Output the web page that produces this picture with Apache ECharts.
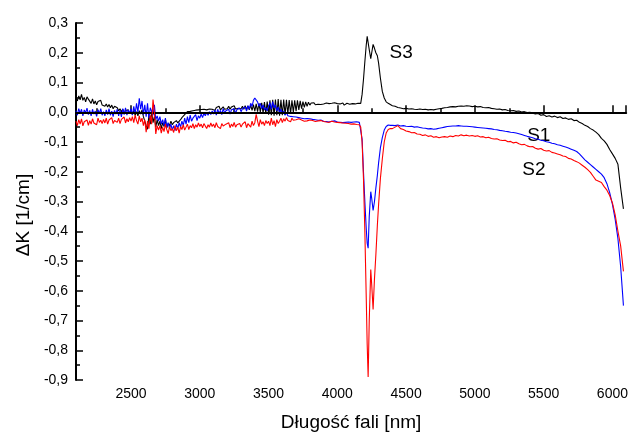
<!DOCTYPE html>
<html><head><meta charset="utf-8">
<script src="https://cdn.jsdelivr.net/npm/echarts@6/dist/echarts.min.js"></script>
<style>html,body{margin:0;padding:0;background:#fff}#c{width:631px;height:437px}</style>
</head><body><div id="c"></div>
<script>
// Wavelength grid description [nm]
const gridA = {start: 2100, step: 10};   // noisy part, 2100..4160
const peakWl = [4170,4180,4190,4200,4210,4217,4224,4232,4243,4250,4260,4270,4280,4291,4300,4313,4327,4341,4355,4370,4385];
const gridC = {start: 4400, step: 20};   // smooth part, 4400..6080

const xTicks = [2500,3000,3500,4000,4500,5000,5500,6000];
const yTicks = [0.3,0.2,0.1,0.0,-0.1,-0.2,-0.3,-0.4,-0.5,-0.6,-0.7,-0.8,-0.9];

// S3 (black)
const s3A = [
 0.048,0.038,0.055,0.042,0.060,0.040,0.050,0.035,0.052,0.044,
 0.040,0.030,0.045,0.028,0.038,0.025,0.036,0.030,0.040,0.024,
 0.030,0.020,0.028,0.018,0.026,0.015,0.024,0.012,0.020,0.014,
 0.015,0.005,0.012,0.002,0.010,-0.004,0.006,0.000,0.008,-0.005,
 0.004,-0.008,0.006,-0.010,0.002,-0.012,0.005,-0.006,0.008,-0.015,
 -0.020,-0.045,-0.057,-0.010,-0.040,0.005,-0.035,-0.015,-0.050,-0.025,
 -0.045,-0.030,-0.055,-0.035,-0.048,-0.025,-0.052,-0.038,-0.045,-0.030,
 -0.042,-0.035,-0.040,-0.028,-0.036,-0.030,-0.025,-0.018,-0.012,-0.008,
 -0.005,0.002,0.006,0.003,0.008,0.005,0.010,0.007,0.012,0.008,
 0.012,0.009,0.015,0.010,0.014,0.008,0.013,0.011,0.016,0.010,
 0.012,0.006,0.016,0.010,0.020,0.008,0.014,0.018,0.010,0.015,
 0.012,0.020,0.010,0.018,0.014,0.022,0.011,0.017,0.013,0.019,
 0.012,0.020,0.010,0.022,0.009,0.021,0.008,0.024,0.006,0.026,
 0.004,0.028,0.002,0.030,0.000,0.032,-0.002,0.034,-0.004,0.036,
 -0.008,0.040,-0.010,0.042,-0.012,0.043,-0.010,0.044,-0.012,0.042,
 -0.010,0.043,-0.008,0.042,-0.006,0.041,-0.004,0.040,0.000,0.040,
 0.004,0.040,0.008,0.038,0.012,0.036,0.016,0.035,0.020,0.034,
 0.024,0.031,0.026,0.032,0.025,0.030,0.027,0.033,0.026,0.030,
 0.028,0.025,0.031,0.027,0.029,0.024,0.030,0.026,0.032,0.027,
 0.029,0.025,0.028,0.026,0.031,0.024,0.028,0.030,0.025,0.027,
 0.026,0.029,0.024,0.028,0.027,0.030,0.029];
const s3B = [0.030,0.060,0.110,0.170,0.225,0.255,0.250,0.210,0.180,0.200,0.228,0.215,0.200,0.190,0.165,0.115,0.070,0.048,0.035,0.030,0.026];
const s3C = [
 0.022,0.020,0.016,0.014,0.012,0.013,0.011,0.012,0.010,0.009,
 0.011,0.009,0.010,0.008,0.009,0.008,0.010,0.012,0.013,0.015,
 0.016,0.018,0.019,0.018,0.020,0.021,0.020,0.022,0.021,0.019,
 0.020,0.018,0.019,0.016,0.015,0.016,0.013,0.012,0.010,0.011,
 0.008,0.009,0.006,0.005,0.006,0.003,0.004,0.001,0.002,-0.001,
 0.000,-0.003,-0.006,-0.004,-0.010,-0.008,-0.014,-0.012,-0.016,-0.013,
 -0.018,-0.015,-0.021,-0.019,-0.024,-0.022,-0.028,-0.027,-0.034,-0.038,
 -0.044,-0.048,-0.055,-0.060,-0.067,-0.075,-0.088,-0.096,-0.108,-0.125,
 -0.140,-0.155,-0.175,-0.255,-0.325];

// S1 (blue)
const s1A = [
 0.005,-0.010,0.012,-0.004,0.010,-0.012,0.008,-0.002,0.014,-0.008,
 0.006,-0.012,0.010,-0.006,0.004,-0.014,0.009,-0.005,0.012,-0.010,
 0.002,-0.012,0.008,-0.008,0.012,-0.010,0.004,-0.015,0.006,-0.006,
 0.010,-0.012,0.006,-0.016,0.012,-0.008,0.015,-0.010,0.008,-0.004,
 0.012,-0.010,0.020,-0.005,0.030,0.000,0.047,0.010,0.038,-0.008,
 0.025,-0.015,0.030,-0.020,0.015,0.020,-0.010,0.025,-0.025,-0.012,
 -0.030,-0.015,-0.040,-0.025,-0.045,-0.020,-0.050,-0.035,-0.055,-0.040,
 -0.060,-0.045,-0.062,-0.040,-0.055,-0.035,-0.050,-0.030,-0.045,-0.020,
 -0.040,-0.015,-0.035,-0.010,-0.030,-0.020,-0.025,-0.008,-0.028,-0.012,
 -0.020,-0.006,-0.018,-0.004,-0.012,0.000,-0.010,0.002,-0.008,0.004,
 -0.006,0.008,-0.010,0.010,-0.004,0.006,-0.008,0.012,-0.002,0.005,
 0.000,0.010,-0.006,0.008,0.002,0.012,-0.004,0.009,0.004,0.014,
 0.002,0.012,0.006,0.018,0.004,0.022,0.010,0.030,0.020,0.040,
 0.048,0.054,0.035,0.020,0.030,0.012,0.025,0.008,0.015,0.005,
 0.020,0.032,0.010,0.036,0.015,0.025,0.005,0.018,-0.002,0.010,
 -0.005,0.004,-0.010,0.000,-0.012,-0.006,-0.014,-0.008,-0.015,-0.010,
 -0.016,-0.012,-0.018,-0.014,-0.020,-0.016,-0.022,-0.018,-0.021,-0.024,
 -0.022,-0.026,-0.024,-0.028,-0.025,-0.023,-0.027,-0.029,-0.026,-0.028,
 -0.030,-0.027,-0.031,-0.029,-0.033,-0.028,-0.030,-0.032,-0.029,-0.031,
 -0.033,-0.030,-0.034,-0.032,-0.035,-0.031,-0.034,-0.036,-0.033,-0.035,
 -0.034,-0.037,-0.033,-0.036,-0.032,-0.030,-0.034];
const s1B = [-0.040,-0.090,-0.200,-0.300,-0.390,-0.440,-0.457,-0.350,-0.267,-0.290,-0.330,-0.300,-0.255,-0.212,-0.170,-0.120,-0.085,-0.060,-0.048,-0.043,-0.044];
const s1C = [
 -0.044,-0.045,-0.043,-0.046,-0.045,-0.047,-0.048,-0.047,-0.050,-0.049,
 -0.051,-0.053,-0.054,-0.056,-0.055,-0.057,-0.056,-0.054,-0.052,-0.050,
 -0.048,-0.047,-0.046,-0.046,-0.045,-0.046,-0.047,-0.047,-0.048,-0.049,
 -0.050,-0.051,-0.052,-0.053,-0.054,-0.055,-0.056,-0.058,-0.059,-0.061,
 -0.062,-0.064,-0.065,-0.067,-0.068,-0.070,-0.072,-0.075,-0.078,-0.081,
 -0.083,-0.086,-0.089,-0.091,-0.094,-0.096,-0.099,-0.101,-0.104,-0.106,
 -0.109,-0.111,-0.114,-0.117,-0.120,-0.124,-0.128,-0.132,-0.140,-0.150,
 -0.160,-0.168,-0.176,-0.184,-0.192,-0.200,-0.208,-0.220,-0.240,-0.270,
 -0.310,-0.360,-0.425,-0.520,-0.650];

// S2 (red)
const s2A = [
 -0.030,-0.045,-0.025,-0.040,-0.022,-0.046,-0.032,-0.038,-0.026,-0.044,
 -0.028,-0.040,-0.022,-0.036,-0.030,-0.042,-0.020,-0.034,-0.027,-0.038,
 -0.024,-0.036,-0.020,-0.040,-0.026,-0.032,-0.018,-0.038,-0.028,-0.022,
 -0.034,-0.020,-0.038,-0.024,-0.030,-0.016,-0.036,-0.022,-0.032,-0.018,
 -0.030,-0.015,-0.035,-0.010,-0.028,-0.040,-0.012,-0.032,-0.020,-0.045,
 -0.025,-0.067,-0.030,-0.055,-0.010,-0.040,0.043,0.000,-0.073,-0.045,
 -0.060,-0.045,-0.070,-0.050,-0.065,-0.040,-0.058,-0.072,-0.048,-0.062,
 -0.055,-0.068,-0.045,-0.062,-0.050,-0.070,-0.048,-0.058,-0.042,-0.060,
 -0.050,-0.040,-0.058,-0.045,-0.052,-0.038,-0.055,-0.042,-0.050,-0.036,
 -0.048,-0.040,-0.052,-0.038,-0.046,-0.055,-0.042,-0.050,-0.036,-0.048,
 -0.040,-0.052,-0.035,-0.048,-0.044,-0.055,-0.038,-0.046,-0.050,-0.040,
 -0.045,-0.035,-0.052,-0.040,-0.048,-0.034,-0.050,-0.042,-0.046,-0.038,
 -0.050,-0.040,-0.046,-0.032,-0.052,-0.038,-0.044,-0.050,-0.030,-0.045,
 -0.035,-0.007,-0.030,-0.048,-0.025,-0.040,-0.032,-0.045,-0.028,-0.038,
 -0.030,-0.045,-0.020,-0.042,-0.028,-0.048,-0.025,-0.038,-0.030,-0.020,
 -0.035,-0.022,-0.030,-0.018,-0.028,-0.024,-0.032,-0.020,-0.027,-0.023,
 -0.025,-0.030,-0.022,-0.028,-0.026,-0.024,-0.030,-0.025,-0.029,-0.027,
 -0.026,-0.030,-0.028,-0.024,-0.031,-0.027,-0.029,-0.032,-0.028,-0.030,
 -0.031,-0.029,-0.033,-0.030,-0.034,-0.032,-0.030,-0.035,-0.033,-0.036,
 -0.034,-0.037,-0.035,-0.038,-0.036,-0.039,-0.037,-0.040,-0.038,-0.041,
 -0.040,-0.042,-0.039,-0.043,-0.041,-0.044,-0.042];
const s2B = [-0.050,-0.100,-0.223,-0.400,-0.620,-0.780,-0.890,-0.700,-0.529,-0.580,-0.663,-0.560,-0.480,-0.380,-0.310,-0.223,-0.157,-0.100,-0.070,-0.058,-0.055];
const s2C = [
 -0.055,-0.050,-0.045,-0.055,-0.058,-0.063,-0.065,-0.069,-0.068,-0.073,
 -0.074,-0.078,-0.076,-0.081,-0.079,-0.084,-0.082,-0.086,-0.083,-0.082,
 -0.084,-0.080,-0.082,-0.078,-0.080,-0.076,-0.079,-0.077,-0.080,-0.078,
 -0.081,-0.079,-0.083,-0.082,-0.086,-0.084,-0.088,-0.090,-0.089,-0.093,
 -0.095,-0.094,-0.099,-0.098,-0.103,-0.101,-0.106,-0.109,-0.108,-0.113,
 -0.116,-0.115,-0.121,-0.124,-0.122,-0.128,-0.130,-0.129,-0.135,-0.137,
 -0.140,-0.143,-0.147,-0.149,-0.155,-0.157,-0.162,-0.166,-0.171,-0.178,
 -0.185,-0.193,-0.202,-0.215,-0.228,-0.232,-0.236,-0.250,-0.262,-0.280,
 -0.305,-0.345,-0.400,-0.450,-0.535];

const seriesNames = ['S3','S1','S2'];
const seriesColors = ['#000000','#0000ff','#ff0000'];
const labelAnchors = [[4380,0.200],[5380,-0.078],[5345,-0.192]]; // where the S-labels sit

function build(a,b,c){
  const out=[];
  a.forEach((v,i)=>out.push([gridA.start+i*gridA.step, v]));
  b.forEach((v,i)=>out.push([peakWl[i], v]));
  c.forEach((v,i)=>out.push([gridC.start+i*gridC.step, v]));
  return out;
}
const allData = [build(s3A,s3B,s3C), build(s1A,s1B,s1C), build(s2A,s2B,s2C)];

const FONT = 'Liberation Sans, Arial, sans-serif';
const chart = echarts.init(document.getElementById('c'), null, {renderer:'canvas'});
const series = allData.map((d,i)=>({
  name: seriesNames[i], type:'line', data:d, showSymbol:false, symbol:'none',
  sampling:null, animation:false, z: 3+i,
  lineStyle:{color:seriesColors[i], width:1.1}, itemStyle:{color:seriesColors[i]}
}));
series[0].markLine = {silent:true, symbol:'none', label:{show:false},
  lineStyle:{color:'#000', width:2, type:'solid'}, data:[{yAxis:0}], animation:false};

chart.setOption({
  animation:false,
  backgroundColor:'#fff',
  grid:{left:76, right:0, top:23, bottom:54, containLabel:false},
  xAxis:{type:'value', min:2100, max:6100, splitNumber:8,
    name:'Długość fali [nm]', nameLocation:'middle', nameGap:33,
    nameTextStyle:{fontFamily:FONT, fontSize:19, color:'#000'},
    axisLine:{lineStyle:{color:'#000', width:2}},
    axisTick:{inside:true, length:7, lineStyle:{color:'#000', width:1.5}},
    minorTick:{show:true, splitNumber:2, length:4, lineStyle:{color:'#000', width:1.5}},
    axisLabel:{fontFamily:FONT, fontSize:14, color:'#000', margin:7, showMinLabel:false, showMaxLabel:false,
      formatter:v=> xTicks.indexOf(v)>=0 ? String(v) : ''},
    splitLine:{show:false}},
  yAxis:{type:'value', min:-0.9, max:0.3, interval:0.1,
    axisLine:{show:true, lineStyle:{color:'#000', width:2}},
    axisTick:{show:true, inside:true, length:7, lineStyle:{color:'#000', width:1.5}},
    minorTick:{show:true, splitNumber:2, length:4, lineStyle:{color:'#000', width:1.5}},
    axisLabel:{fontFamily:FONT, fontSize:14, color:'#000', margin:8,
      formatter:v=>{ const r=Math.round(v*10)/10; return r.toFixed(1).replace('.',','); }},
    splitLine:{show:false}},
  series: series
});

const gfx = labelAnchors.map((p,i)=>{
  const px = chart.convertToPixel({gridIndex:0}, p);
  return {type:'text', x:px[0], y:px[1], style:{text:seriesNames[i], fontFamily:FONT, fontSize:19, fill:'#000', textAlign:'left', textVerticalAlign:'middle'}};
});
gfx.push({type:'text', x:23.5, y:215, rotation:Math.PI/2,
  style:{text:'ΔK [1/cm]', fontFamily:FONT, fontSize:19, fill:'#000', textAlign:'center', textVerticalAlign:'middle'}});
chart.setOption({graphic: gfx});
</script></body></html>
